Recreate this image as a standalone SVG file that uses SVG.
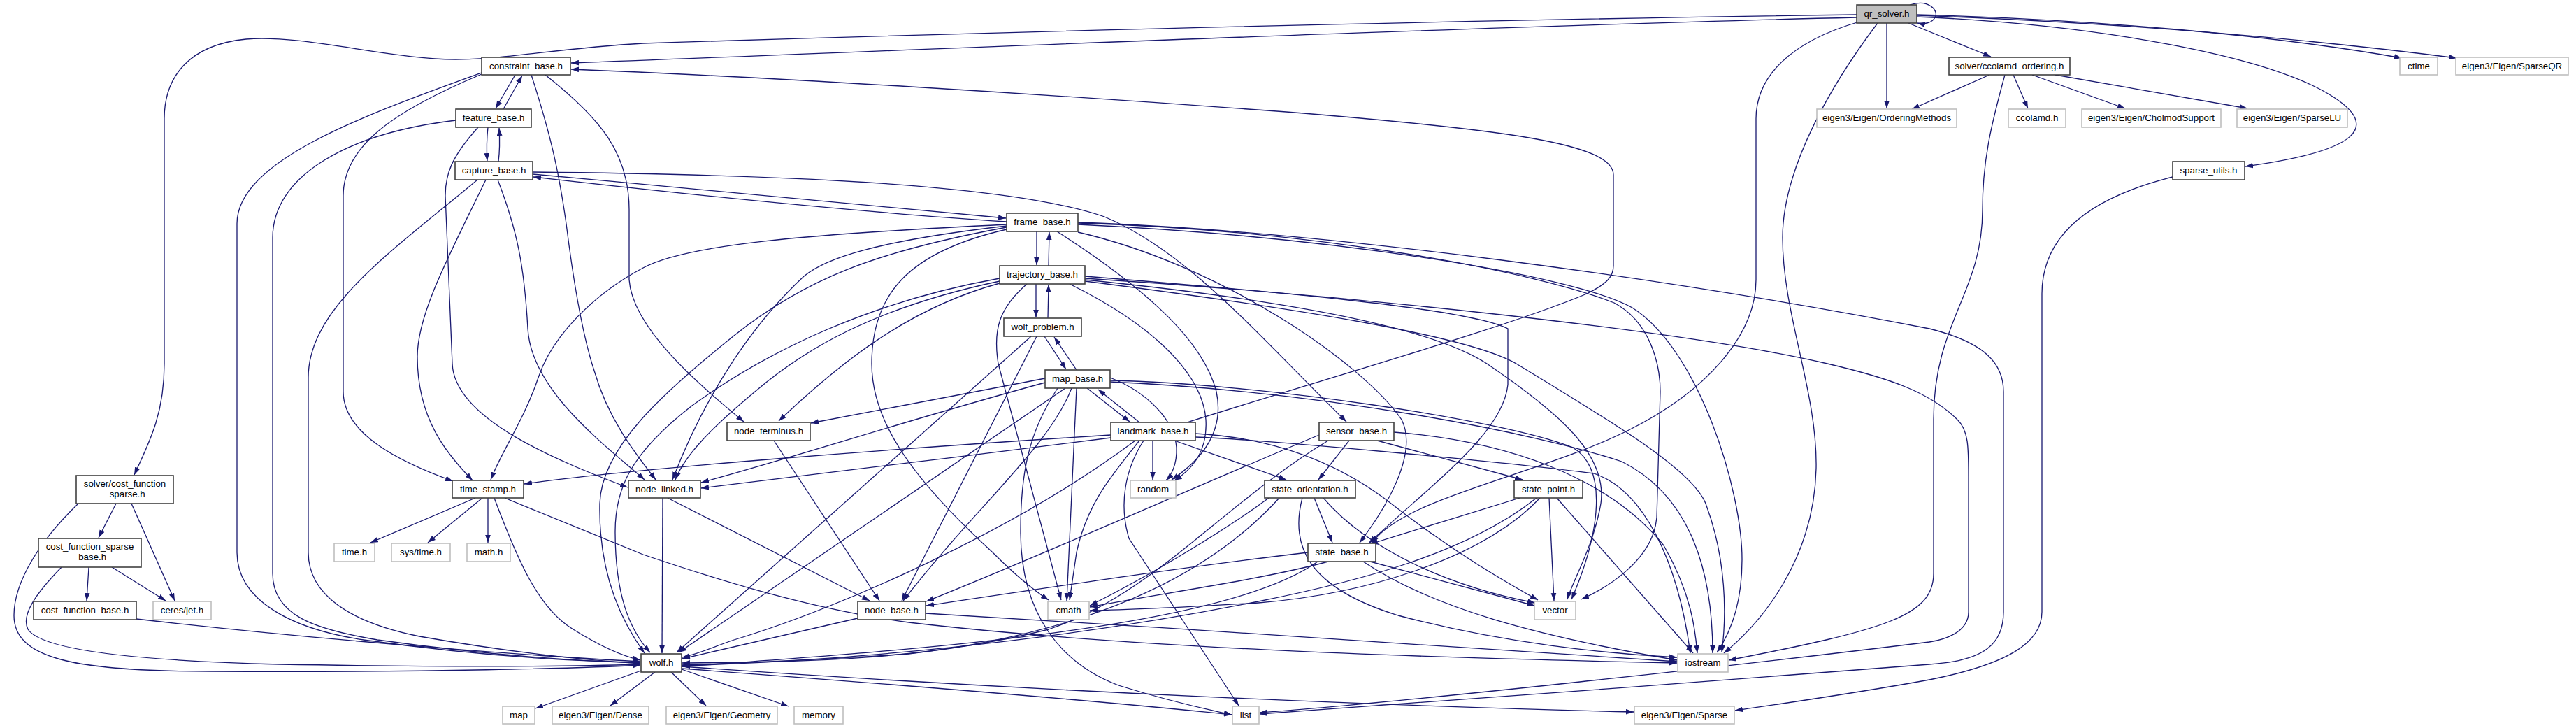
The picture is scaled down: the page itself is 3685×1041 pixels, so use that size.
<svg xmlns="http://www.w3.org/2000/svg" width="3685" height="1041" viewBox="0 0 3685 1041">
<style>
.n rect{fill:#ffffff;stroke:#404040;stroke-width:1.6}
.x rect{fill:#ffffff;stroke:#bfbfbf;stroke-width:1.6}
.r rect{fill:#bfbfbf;stroke:#404040;stroke-width:1.6}
text{font-family:"Liberation Sans",Arial,sans-serif;font-size:13.3px;fill:#000;text-anchor:middle}
#edges path{fill:none;stroke:#191970;stroke-width:1.3;marker-end:url(#a)}
</style>
<defs>
<marker id="a" viewBox="0 0 10 7" refX="10" refY="3.5" markerWidth="11" markerHeight="8" markerUnits="userSpaceOnUse" orient="auto"><path d="M0,0L10,3.5L0,7z" fill="#191970"/></marker>
</defs>
<rect width="3685" height="1041" fill="#ffffff"/>
<g id="edges">
<path d="M2656,25 C2100,38 1300,72 817,90"/>
<path d="M2656,21 C2000,30 1300,50 920,62 C780,70 700,90 622,84 C530,78 430,50 352,56 C270,64 235,110 235,170 L235,520 C235,590 215,630 192,679"/>
<path d="M1698,604 C1900,540 2150,470 2270,420 C2300,405 2308,395 2308,380 L2308,250 C2308,205 2150,185 1840,160 C1500,135 1100,110 817,99"/>
<path d="M2660,31 C2560,60 2512,110 2512,170 L2512,400 C2512,480 2440,560 2330,615 C2200,680 2010,710 1962,777"/>
<path d="M2686,33 C2620,120 2550,240 2550,340 C2550,450 2600,560 2598,670 C2595,800 2520,890 2466,934"/>
<path d="M2699,33 L2699,155"/>
<path d="M2730,33 L2848,81"/>
<path d="M2732,7 C2760,-2 2774,16 2768,25 C2764,33 2752,35 2743,33"/>
<path d="M2742,21 C3000,28 3250,50 3436,83"/>
<path d="M2742,22 C3100,35 3350,62 3514,83"/>
<path d="M2742,24 C3000,35 3250,80 3340,140 C3400,180 3380,215 3212,238"/>
<path d="M2846,107 L2735,156"/>
<path d="M2880,107 L2901,155"/>
<path d="M2907,107 L3040,155"/>
<path d="M2940,107 L3215,155"/>
<path d="M2868,107 C2848,180 2836,230 2836,300 C2836,420 2766,460 2766,600 L2766,820 C2766,880 2700,900 2473,944"/>
<path d="M3108,253 C3000,280 2921,330 2921,420 L2921,875 C2921,920 2870,950 2760,972 C2650,992 2550,1006 2482,1016"/>
<path d="M737,107 L709,155"/>
<path d="M720,156 L747,108"/>
<path d="M698,182 C696,200 696,215 697,230"/>
<path d="M713,231 C715,215 715,200 714,183"/>
<path d="M762,249 C1000,270 1250,295 1439,312"/>
<path d="M1440,317 C1250,305 1000,280 763,253"/>
<path d="M762,246 C1150,250 1450,265 1580,310 C1700,360 1800,480 1926,603"/>
<path d="M689,104 C520,165 339,230 339,320 L339,790 C339,860 420,900 520,915 C700,940 840,946 916,947"/>
<path d="M652,172 C500,190 390,250 390,340 L390,820 C390,880 450,900 540,915 C720,940 850,946 916,948"/>
<path d="M683,257 C560,360 441,440 441,540 L441,790 C441,850 500,890 600,910 C760,938 860,945 916,949"/>
<path d="M689,106 C560,160 491,210 491,280 L491,560 C491,620 570,660 648,688"/>
<path d="M695,257 C640,370 597,450 597,510 C597,600 640,650 676,687"/>
<path d="M684,182 C645,225 637,250 637,280 L647,520 C650,600 800,660 898,697"/>
<path d="M712,257 C740,330 750,380 755,470 C760,560 870,640 922,686"/>
<path d="M760,107 C790,200 800,250 810,320 C825,440 840,500 850,530 C870,600 910,650 938,686"/>
<path d="M780,107 C860,170 900,220 900,300 L900,400 C905,470 1000,550 1064,603"/>
<path d="M1483,331 L1483,379"/>
<path d="M1500,380 L1501,332"/>
<path d="M1482,406 L1482,454"/>
<path d="M1499,455 L1500,407"/>
<path d="M1494,481 L1525,528"/>
<path d="M1540,529 L1508,482"/>
<path d="M1440,321 C1150,335 980,350 920,383 C850,420 790,480 770,540 C750,600 715,650 702,686"/>
<path d="M1440,323 C1250,345 1180,370 1150,395 C1080,460 1010,560 962,686"/>
<path d="M1440,325 C1250,360 1150,400 1050,480 C950,560 860,640 858,720 C856,820 890,890 922,934"/>
<path d="M1440,328 C1300,360 1247,420 1247,520 C1247,600 1300,680 1420,790 C1460,830 1485,848 1500,858"/>
<path d="M1512,331 C1620,400 1720,480 1740,560 C1755,630 1700,670 1676,686"/>
<path d="M1542,319 C1900,330 2200,390 2309,433 C2360,460 2375,520 2375,560 L2370,740 C2365,800 2300,840 2262,857"/>
<path d="M1542,321 C1900,338 2250,392 2335,440 C2430,500 2492,700 2492,800 C2492,870 2472,910 2456,933"/>
<path d="M1542,332 C1750,380 1950,520 2005,600 C2030,650 1980,730 1945,776"/>
<path d="M1542,318 C1900,330 2400,400 2760,470 C2840,490 2866,520 2866,560 L2866,875 C2866,920 2840,945 2760,950 C2500,970 2000,1008 1802,1021"/>
<path d="M1430,398 C1250,430 1100,500 990,580 C900,650 880,700 880,760 C880,850 900,900 930,933"/>
<path d="M1430,402 C1250,440 1150,500 1080,560 C1020,610 980,650 966,686"/>
<path d="M1430,405 C1300,440 1200,520 1114,602"/>
<path d="M1469,406 C1430,440 1420,470 1428,520 L1518,858"/>
<path d="M1530,406 C1640,460 1720,530 1725,600 C1728,650 1700,675 1680,687"/>
<path d="M1552,395 C1800,415 2100,440 2157,470 L2157,550 C2150,620 2050,690 1958,777"/>
<path d="M1552,400 C1850,430 2050,470 2127,520 C2230,590 2300,650 2290,720 C2280,780 2250,830 2242,857"/>
<path d="M1552,402 C1850,440 2100,480 2169,520 C2300,600 2420,670 2440,720 C2470,800 2470,880 2463,933"/>
<path d="M1552,398 C1900,420 2400,470 2614,520 C2700,540 2760,560 2800,600 C2816,615 2816,640 2816,680 L2816,875 C2816,905 2780,915 2760,918 C2500,950 2000,1005 1802,1019"/>
<path d="M1475,481 L968,933"/>
<path d="M1483,481 L1290,859"/>
<path d="M1495,541 L1160,605"/>
<path d="M1495,547 C1300,600 1150,650 1003,690"/>
<path d="M1524,555 L971,933"/>
<path d="M1533,555 C1500,640 1400,720 1292,859"/>
<path d="M1540,555 L1526,859"/>
<path d="M1555,555 L1616,603"/>
<path d="M1630,604 L1571,557"/>
<path d="M1588,540 C1640,560 1680,600 1683,640 C1684,665 1675,680 1668,687"/>
<path d="M1588,544 C1800,548 2150,600 2250,640 C2300,670 2290,760 2248,857"/>
<path d="M1588,546 C1900,560 2200,620 2320,660 C2420,710 2450,820 2450,934"/>
<path d="M1513,555 C1470,620 1460,680 1460,760 C1460,880 1520,950 1600,980 C1680,1005 1730,1015 1762,1022"/>
<path d="M1649,630 L1649,686"/>
<path d="M1680,630 L1840,686"/>
<path d="M1589,626 C1400,650 1150,680 1003,698"/>
<path d="M1589,622 C1300,640 900,670 750,692"/>
<path d="M1624,630 C1450,760 1200,870 1050,915 C1020,925 1000,935 976,940"/>
<path d="M1630,630 C1590,680 1555,720 1540,790 L1530,858"/>
<path d="M1636,630 C1610,670 1600,720 1615,770 L1772,1009"/>
<path d="M1710,620 C1800,625 1900,650 1990,720 C2080,790 2150,830 2200,858"/>
<path d="M1710,625 C1800,628 2150,660 2280,677 C2350,700 2400,800 2418,934"/>
<path d="M1930,630 L1886,686"/>
<path d="M1970,630 L2178,686"/>
<path d="M1887,622 C1700,700 1500,790 1325,860"/>
<path d="M1900,630 C1750,720 1650,850 1500,900 C1300,950 1100,946 976,948"/>
<path d="M1994,618 C2150,630 2300,680 2380,780 C2420,850 2425,900 2428,934"/>
<path d="M1880,712 L1906,776"/>
<path d="M1830,712 C1750,800 1600,900 1300,935 C1150,945 1050,948 976,951"/>
<path d="M1815,712 C1750,760 1650,820 1559,866"/>
<path d="M1893,712 C1960,790 2080,840 2196,862"/>
<path d="M1863,712 C1845,780 1870,840 2000,880 C2150,920 2300,935 2399,940"/>
<path d="M2174,712 L1960,778"/>
<path d="M2216,712 L2223,859"/>
<path d="M2227,712 L2422,934"/>
<path d="M2198,712 C2100,790 1950,830 1800,860 C1500,920 1200,945 976,952"/>
<path d="M2203,712 C2120,800 1950,850 1800,862 C1700,868 1620,872 1559,873"/>
<path d="M1871,790 C1700,810 1500,840 1325,866"/>
<path d="M1900,803 C1800,830 1650,850 1559,868"/>
<path d="M1885,803 C1750,900 1300,930 976,953"/>
<path d="M1960,803 L2195,866"/>
<path d="M1950,803 C2050,870 2200,910 2399,944"/>
<path d="M948,712 L947,934"/>
<path d="M955,712 L1244,859"/>
<path d="M1107,630 L1258,859"/>
<path d="M1227,884 L976,942"/>
<path d="M1324,877 C1700,900 2200,930 2399,946"/>
<path d="M680,712 L530,776"/>
<path d="M690,712 L612,776"/>
<path d="M698,712 L698,776"/>
<path d="M707,712 C740,800 770,870 820,900 C860,925 890,938 916,944"/>
<path d="M722,712 L920,793 C1000,820 1150,870 1300,890 C1600,925 2000,940 2399,948"/>
<path d="M166,720 L141,769"/>
<path d="M188,720 L250,859"/>
<path d="M112,720 C60,770 20,830 20,880 C20,940 100,960 300,960 C600,962 850,955 916,951"/>
<path d="M127,811 L124,859"/>
<path d="M160,811 L237,859"/>
<path d="M88,811 C50,850 30,880 40,900 C60,930 200,945 400,950 C700,955 850,952 916,950"/>
<path d="M195,885 C500,920 800,940 916,946"/>
<path d="M917,959 L766,1013"/>
<path d="M937,961 L873,1009"/>
<path d="M960,961 L1010,1009"/>
<path d="M975,957 L1128,1010"/>
<path d="M975,956 C1300,980 1600,1005 1762,1022"/>
<path d="M975,953 C1500,990 2000,1010 2337,1018"/>
</g>
<g id="qr_solver" class="r"><rect x="2656" y="7" width="86" height="26"/><text x="2699" y="24">qr_solver.h</text></g>
<g id="constraint_base" class="n"><rect x="689" y="82" width="127" height="25"/><text x="752.5" y="99">constraint_base.h</text></g>
<g id="ccolamd_ordering" class="n"><rect x="2788" y="82" width="173" height="25"/><text x="2874.5" y="99">solver/ccolamd_ordering.h</text></g>
<g id="ctime" class="x"><rect x="3433" y="82" width="54" height="25"/><text x="3460" y="99">ctime</text></g>
<g id="sparseqr" class="x"><rect x="3513" y="82" width="161" height="25"/><text x="3593.5" y="99">eigen3/Eigen/SparseQR</text></g>
<g id="feature_base" class="n"><rect x="652" y="156" width="108" height="26"/><text x="706" y="173">feature_base.h</text></g>
<g id="orderingmethods" class="x"><rect x="2599" y="156" width="200" height="26"/><text x="2699" y="173">eigen3/Eigen/OrderingMethods</text></g>
<g id="ccolamd" class="x"><rect x="2873" y="156" width="82" height="26"/><text x="2914" y="173">ccolamd.h</text></g>
<g id="cholmod" class="x"><rect x="2978" y="156" width="199" height="26"/><text x="3077.5" y="173">eigen3/Eigen/CholmodSupport</text></g>
<g id="sparselu" class="x"><rect x="3200" y="156" width="158" height="26"/><text x="3279" y="173">eigen3/Eigen/SparseLU</text></g>
<g id="capture_base" class="n"><rect x="651" y="231" width="111" height="26"/><text x="706.5" y="248">capture_base.h</text></g>
<g id="sparse_utils" class="n"><rect x="3108" y="231" width="103" height="26"/><text x="3159.5" y="248">sparse_utils.h</text></g>
<g id="frame_base" class="n"><rect x="1440" y="305" width="102" height="26"/><text x="1491" y="322">frame_base.h</text></g>
<g id="trajectory_base" class="n"><rect x="1430" y="380" width="122" height="26"/><text x="1491" y="397">trajectory_base.h</text></g>
<g id="wolf_problem" class="n"><rect x="1436" y="455" width="111" height="26"/><text x="1491.5" y="472">wolf_problem.h</text></g>
<g id="map_base" class="n"><rect x="1495" y="529" width="93" height="26"/><text x="1541.5" y="546">map_base.h</text></g>
<g id="node_terminus" class="n"><rect x="1040" y="604" width="119" height="26"/><text x="1099.5" y="621">node_terminus.h</text></g>
<g id="landmark_base" class="n"><rect x="1589" y="604" width="121" height="26"/><text x="1649.5" y="621">landmark_base.h</text></g>
<g id="sensor_base" class="n"><rect x="1887" y="604" width="107" height="26"/><text x="1940.5" y="621">sensor_base.h</text></g>
<g id="cost_function_sparse" class="n"><rect x="109" y="680" width="139" height="40"/><text x="178.5" y="696">solver/cost_function</text><text x="178.5" y="711">_sparse.h</text></g>
<g id="time_stamp" class="n"><rect x="647" y="687" width="102" height="25"/><text x="698" y="704">time_stamp.h</text></g>
<g id="node_linked" class="n"><rect x="899" y="687" width="103" height="25"/><text x="950.5" y="704">node_linked.h</text></g>
<g id="random" class="x"><rect x="1617" y="687" width="65" height="25"/><text x="1649.5" y="704">random</text></g>
<g id="state_orientation" class="n"><rect x="1809" y="687" width="130" height="25"/><text x="1874" y="704">state_orientation.h</text></g>
<g id="state_point" class="n"><rect x="2166" y="687" width="98" height="25"/><text x="2215" y="704">state_point.h</text></g>
<g id="cost_function_sparse_base" class="n"><rect x="55" y="770" width="147" height="41"/><text x="128.5" y="786">cost_function_sparse</text><text x="128.5" y="801">_base.h</text></g>
<g id="time_h" class="x"><rect x="478" y="777" width="58" height="26"/><text x="507" y="794">time.h</text></g>
<g id="sys_time_h" class="x"><rect x="560" y="777" width="84" height="26"/><text x="602" y="794">sys/time.h</text></g>
<g id="math_h" class="x"><rect x="668" y="777" width="62" height="26"/><text x="699" y="794">math.h</text></g>
<g id="state_base" class="n"><rect x="1871" y="777" width="97" height="26"/><text x="1919.5" y="794">state_base.h</text></g>
<g id="cost_function_base" class="n"><rect x="48" y="860" width="147" height="26"/><text x="121.5" y="877">cost_function_base.h</text></g>
<g id="ceres_jet" class="x"><rect x="219" y="860" width="83" height="26"/><text x="260.5" y="877">ceres/jet.h</text></g>
<g id="node_base" class="n"><rect x="1227" y="860" width="97" height="26"/><text x="1275.5" y="877">node_base.h</text></g>
<g id="cmath" class="x"><rect x="1499" y="860" width="59" height="26"/><text x="1528.5" y="877">cmath</text></g>
<g id="vector" class="x"><rect x="2195" y="860" width="59" height="26"/><text x="2224.5" y="877">vector</text></g>
<g id="wolf" class="n"><rect x="917" y="935" width="58" height="26"/><text x="946" y="952">wolf.h</text></g>
<g id="iostream" class="x"><rect x="2400" y="935" width="72" height="26"/><text x="2436" y="952">iostream</text></g>
<g id="map" class="x"><rect x="719" y="1010" width="46" height="25"/><text x="742" y="1027">map</text></g>
<g id="dense" class="x"><rect x="790" y="1010" width="138" height="25"/><text x="859" y="1027">eigen3/Eigen/Dense</text></g>
<g id="geometry" class="x"><rect x="953" y="1010" width="159" height="25"/><text x="1032.5" y="1027">eigen3/Eigen/Geometry</text></g>
<g id="memory" class="x"><rect x="1136" y="1010" width="70" height="25"/><text x="1171" y="1027">memory</text></g>
<g id="list" class="x"><rect x="1763" y="1010" width="38" height="25"/><text x="1782" y="1027">list</text></g>
<g id="sparse" class="x"><rect x="2338" y="1010" width="143" height="25"/><text x="2409.5" y="1027">eigen3/Eigen/Sparse</text></g>
</svg>
